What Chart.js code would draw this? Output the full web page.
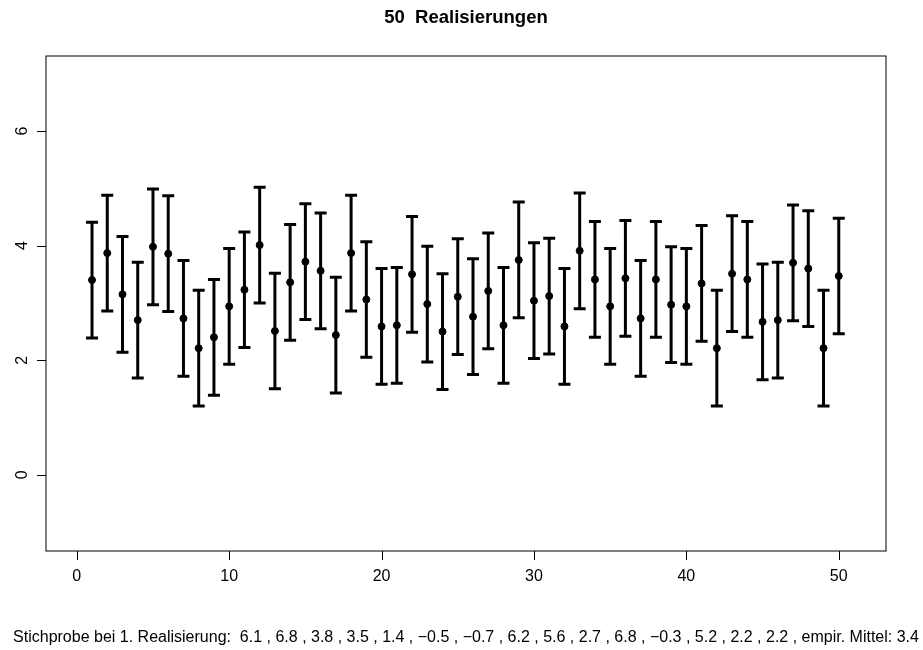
<!DOCTYPE html>
<html>
<head>
<meta charset="utf-8">
<script src="https://cdn.jsdelivr.net/npm/chart.js@4"></script>
<style>
  html, body { margin: 0; padding: 0; background: #fff; }
  #wrap { width: 923px; height: 650px; }
</style>
</head>
<body>
<div id="wrap"><canvas id="chart" width="923" height="650"></canvas></div>
<script>
// Daten: Mittelwerte der 50 Realisierungen
const realisierung = Array.from({ length: 50 }, (_, i) => i + 1);
const mittelwerte = [
  3.40, 3.87, 3.15, 2.70, 3.98, 3.86, 2.73, 2.21, 2.40, 2.94,
  3.23, 4.01, 2.51, 3.36, 3.72, 3.56, 2.44, 3.87, 3.06, 2.59,
  2.61, 3.50, 2.98, 2.50, 3.11, 2.76, 3.21, 2.61, 3.75, 3.04,
  3.12, 2.59, 3.91, 3.41, 2.94, 3.43, 2.73, 3.41, 2.97, 2.94,
  3.34, 2.21, 3.51, 3.41, 2.67, 2.70, 3.70, 3.60, 2.21, 3.47
];
const halbeBreite = 1.01; // halbe Breite des Konfidenzintervalls
const xTicks = [0, 10, 20, 30, 40, 50];
const yTicks = [0, 2, 4, 6];
const titel = '50  Realisierungen';
const stichprobe = [6.1, 6.8, 3.8, 3.5, 1.4, -0.5, -0.7, 6.2, 5.6, 2.7, 6.8, -0.3, 5.2, 2.2, 2.2];
const empirMittel = 3.4;

const fmt = v => String(v).replace('-', '\u2212');
const fusszeile = 'Stichprobe bei 1. Realisierung:  ' +
  stichprobe.map(fmt).join(' , ') + ' , empir. Mittel: ' + fmt(empirMittel);

const FONT = '"Liberation Sans", Arial, sans-serif';

// Fehlerbalken, Rahmen, Achsen und Texte im R-Stil
const rPlot = {
  id: 'rPlot',
  beforeDatasetsDraw(chart) {
    const { ctx, scales: { x, y } } = chart;
    ctx.save();
    ctx.strokeStyle = '#000';
    ctx.lineWidth = 3;
    realisierung.forEach((r, i) => {
      const px = x.getPixelForValue(r);
      const lo = y.getPixelForValue(mittelwerte[i] - halbeBreite);
      const hi = y.getPixelForValue(mittelwerte[i] + halbeBreite);
      ctx.beginPath();
      ctx.moveTo(px, lo); ctx.lineTo(px, hi);
      ctx.moveTo(px - 6, lo); ctx.lineTo(px + 6, lo);
      ctx.moveTo(px - 6, hi); ctx.lineTo(px + 6, hi);
      ctx.stroke();
    });
    ctx.restore();
  },
  afterDraw(chart) {
    const { ctx, chartArea: a, scales: { x, y } } = chart;
    ctx.save();
    ctx.strokeStyle = '#000';
    ctx.lineWidth = 1;
    ctx.strokeRect(a.left, a.top, a.right - a.left, a.bottom - a.top);

    ctx.fillStyle = '#000';
    ctx.font = '16px ' + FONT;

    // x-Achse
    ctx.beginPath();
    xTicks.forEach(t => {
      const px = Math.round(x.getPixelForValue(t)) + 0.5;
      ctx.moveTo(px, a.bottom); ctx.lineTo(px, a.bottom + 9);
    });
    ctx.stroke();
    ctx.textAlign = 'center';
    ctx.textBaseline = 'middle';
    xTicks.forEach(t => ctx.fillText(String(t), x.getPixelForValue(t), a.bottom + 26));

    // y-Achse (Beschriftung gedreht)
    ctx.beginPath();
    yTicks.forEach(t => {
      const py = Math.round(y.getPixelForValue(t)) + 0.5;
      ctx.moveTo(a.left, py); ctx.lineTo(a.left - 9, py);
    });
    ctx.stroke();
    ctx.textBaseline = 'alphabetic';
    yTicks.forEach(t => {
      ctx.save();
      ctx.translate(a.left - 19, y.getPixelForValue(t));
      ctx.rotate(-Math.PI / 2);
      ctx.fillText(String(t), 0, 0);
      ctx.restore();
    });

    const mitte = (a.left + a.right) / 2;
    ctx.textBaseline = 'middle';
    ctx.font = 'bold 18.5px ' + FONT;
    ctx.fillText(titel, mitte, 18);
    ctx.font = '16px ' + FONT;
    ctx.fillText(fusszeile, mitte, 638);
    ctx.restore();
  }
};

new Chart(document.getElementById('chart'), {
  type: 'scatter',
  data: {
    datasets: [{
      data: realisierung.map((r, i) => ({ x: r, y: mittelwerte[i] })),
      backgroundColor: '#000',
      borderColor: '#000',
      pointRadius: 3.5,
      pointHoverRadius: 3.5
    }]
  },
  options: {
    responsive: false,
    animation: false,
    devicePixelRatio: 1,
    layout: { padding: { left: 46, right: 37, top: 56, bottom: 99 } },
    plugins: { legend: { display: false }, tooltip: { enabled: false }, title: { display: false } },
    scales: {
      x: { type: 'linear', display: false, min: -2.02, max: 53.1 },
      y: { type: 'linear', display: false, min: -1.33, max: 7.31 }
    }
  },
  plugins: [rPlot]
});
</script>
</body>
</html>
